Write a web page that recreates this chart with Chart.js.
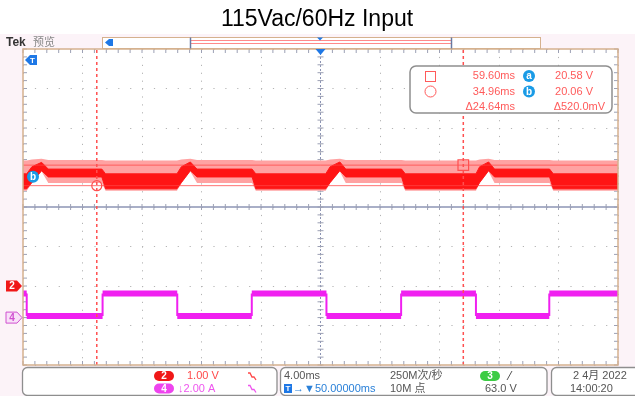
<!DOCTYPE html>
<html>
<head>
<meta charset="utf-8">
<title>115Vac/60Hz Input</title>
<script src="https://cdn.jsdelivr.net/npm/chart.js@4.4.1/dist/chart.umd.min.js"></script>
<style>
  html, body { margin: 0; padding: 0; background: #fff; }
  #wrap { width: 635px; height: 396px; }
</style>
</head>
<body>
<div id="wrap"><canvas id="scope" width="635" height="396"></canvas></div>
<script>
// horizontal axis: time in ms (4.00ms/div, 50ms at centre); vertical axis: screen divisions
const timeRange = [30, 70];
const divRange = [-4, 4];

// channel 2 (red) - ripple band, top/bottom of the dense trace and of the light spikes
const redTime      = [30.0, 30.25, 30.6, 31.25, 31.7, 35.3, 35.55, 40.35, 40.65, 41.25, 41.7, 45.4, 45.65,
                      50.35, 50.65, 51.3, 51.7, 55.45, 55.7, 60.45, 60.7, 61.3, 61.7, 65.4, 65.65, 70.0];
const redDenseTop  = [0.84, 0.84, 1.02, 1.13, 0.96, 0.96, 0.84, 0.84, 1.02, 1.14, 0.96, 0.96, 0.84,
                      0.84, 1.02, 1.14, 0.96, 0.96, 0.84, 0.84, 1.02, 1.14, 0.96, 0.96, 0.84, 0.84];
const redDenseBot  = [0.46, 0.46, 0.62, 0.92, 0.76, 0.76, 0.46, 0.46, 0.62, 0.92, 0.76, 0.76, 0.46,
                      0.46, 0.62, 0.92, 0.76, 0.76, 0.46, 0.46, 0.62, 0.92, 0.76, 0.76, 0.46, 0.46];
const redLightTop  = [1.18, 1.18, 1.20, 1.22, 1.19, 1.19, 1.18, 1.18, 1.20, 1.22, 1.19, 1.19, 1.18,
                      1.18, 1.20, 1.22, 1.19, 1.19, 1.18, 1.18, 1.20, 1.22, 1.19, 1.19, 1.18, 1.18];
const redLightBot  = [0.41, 0.41, 0.60, 0.90, 0.61, 0.61, 0.41, 0.41, 0.60, 0.90, 0.61, 0.61, 0.41,
                      0.41, 0.60, 0.90, 0.61, 0.61, 0.41, 0.41, 0.60, 0.90, 0.61, 0.61, 0.41, 0.41];

// channel 4 (magenta) square wave, edges given as repeated times
const magTime  = [30.0, 30.25, 30.25, 35.35, 35.35, 40.37, 40.37, 45.38, 45.38,
                  50.4, 50.4, 55.42, 55.42, 60.45, 60.45, 65.38, 65.38, 70.0];
const magLevel = [-2.19, -2.19, -2.76, -2.76, -2.19, -2.19, -2.76, -2.76, -2.19,
                  -2.19, -2.76, -2.76, -2.19, -2.19, -2.76, -2.76, -2.19, -2.19];

// cursors: circle (b) and square (a)
const cursorTime  = [34.96, 59.60];
const cursorLevel = [0.54, 1.06];
const readTimes = ['59.60ms', '34.96ms', '\u039424.64ms'];
const readVolts = ['20.58 V', '20.06 V', '\u0394520.0mV'];

// channel markers on the left edge (divisions)
const ch2Offset = -2.0;
const ch4Offset = -2.8;
const trigLevel = 3.72;

const FONT = '"Liberation Sans", "DejaVu Sans", "Noto Sans CJK SC", sans-serif';

function pts(xs, ys) {
    return xs.map((t, i) => ({ x: t, y: ys[i] }));
}

function line(ctx, x1, y1, x2, y2) {
    ctx.beginPath();
    ctx.moveTo(x1, y1);
    ctx.lineTo(x2, y2);
    ctx.stroke();
}

function roundRect(ctx, x, y, w, h, r) {
    ctx.beginPath();
    ctx.moveTo(x + r, y);
    ctx.arcTo(x + w, y, x + w, y + h, r);
    ctx.arcTo(x + w, y + h, x, y + h, r);
    ctx.arcTo(x, y + h, x, y, r);
    ctx.arcTo(x, y, x + w, y, r);
    ctx.closePath();
}

// right-pointing tag, used for channel markers
function tag(ctx, x, y, w, h, fill, stroke, label, color) {
    ctx.beginPath();
    ctx.moveTo(x, y - h / 2);
    ctx.lineTo(x + w - 5, y - h / 2);
    ctx.lineTo(x + w, y);
    ctx.lineTo(x + w - 5, y + h / 2);
    ctx.lineTo(x, y + h / 2);
    ctx.closePath();
    ctx.fillStyle = fill;
    ctx.fill();
    if (stroke) { ctx.strokeStyle = stroke; ctx.lineWidth = 1; ctx.stroke(); }
    ctx.fillStyle = color;
    ctx.font = 'bold 10px ' + FONT;
    ctx.textAlign = 'center';
    ctx.textBaseline = 'middle';
    ctx.fillText(label, x + (w - 4) / 2, y + 0.5);
}

function pill(ctx, x, y, w, h, fill, label) {
    roundRect(ctx, x, y, w, h, h / 2);
    ctx.fillStyle = fill;
    ctx.fill();
    ctx.fillStyle = '#fff';
    ctx.font = 'bold 10px ' + FONT;
    ctx.textAlign = 'center';
    ctx.textBaseline = 'middle';
    ctx.fillText(label, x + w / 2, y + h / 2 + 0.5);
}

function badge(ctx, x, y, fill, label) {
    ctx.beginPath();
    ctx.arc(x, y, 6, 0, Math.PI * 2);
    ctx.fillStyle = fill;
    ctx.fill();
    ctx.fillStyle = '#fff';
    ctx.font = 'bold 10px ' + FONT;
    ctx.textAlign = 'center';
    ctx.textBaseline = 'middle';
    ctx.fillText(label, x, y + 0.5);
}

function squiggle(ctx, x, y, color) {
    ctx.strokeStyle = color;
    ctx.lineWidth = 1.3;
    ctx.beginPath();
    ctx.moveTo(x, y - 3);
    ctx.lineTo(x + 2, y - 3);
    ctx.lineTo(x + 4, y + 1);
    ctx.lineTo(x + 6, y + 1);
    ctx.lineTo(x + 8, y + 4);
    ctx.stroke();
}

function text(ctx, s, x, y, color) {
    ctx.textAlign = 'left';
    ctx.textBaseline = 'middle';
    ctx.font = '11px ' + FONT;
    ctx.fillStyle = color;
    ctx.fillText(s, x, y);
}

const scopeDecor = {
    id: 'scopeDecor',
    beforeDraw(chart) {
        const { ctx, chartArea: a, width, height } = chart;
        ctx.save();
        ctx.fillStyle = '#fcf3f8';
        ctx.fillRect(0, 34, width, height - 34);
        ctx.fillStyle = '#ffffff';
        ctx.fillRect(a.left, a.top, a.right - a.left, a.bottom - a.top);
        ctx.restore();
    },
    beforeDatasetsDraw(chart) {
        const { ctx, chartArea: a, scales: { x, y } } = chart;
        const xc = x.getPixelForValue(50);
        const yc = y.getPixelForValue(0);
        ctx.save();
        // centre cross
        ctx.strokeStyle = '#8c94b4';
        ctx.lineWidth = 1.5;
        line(ctx, a.left, yc, a.right, yc);
        ctx.lineWidth = 1;
        ctx.setLineDash([2, 2]);
        line(ctx, xc, a.top, xc, a.bottom);
        ctx.setLineDash([]);
        // minor ticks on the centre lines and on the frame edges
        ctx.strokeStyle = '#9ca0b4';
        for (let i = 0; i <= 50; i++) {
            const px = x.getPixelForValue(timeRange[0] + i * 0.8);
            line(ctx, px, yc - 3, px, yc + 3);
            line(ctx, px, a.top, px, a.top + 4);
            line(ctx, px, a.bottom - 4, px, a.bottom);
        }
        for (let j = 0; j <= 40; j++) {
            const py = y.getPixelForValue(divRange[0] + j * 0.2);
            line(ctx, xc - 3, py, xc + 3, py);
            line(ctx, a.left, py, a.left + 4, py);
            line(ctx, a.right - 4, py, a.right, py);
        }
        ctx.restore();
    },
    afterDatasetsDraw(chart) {
        const { ctx, chartArea: a, scales: { x, y } } = chart;
        ctx.save();

        // frame
        ctx.strokeStyle = '#d5b18e';
        ctx.lineWidth = 1.5;
        ctx.strokeRect(a.left, a.top, a.right - a.left, a.bottom - a.top);

        // trigger position marker at top centre
        const xc = x.getPixelForValue(50);
        ctx.fillStyle = '#1e78e6';
        ctx.beginPath();
        ctx.moveTo(xc - 5, a.top);
        ctx.lineTo(xc + 5, a.top);
        ctx.lineTo(xc, a.top + 6);
        ctx.closePath();
        ctx.fill();

        // trigger level marker (left)
        const ty = y.getPixelForValue(trigLevel);
        ctx.fillStyle = '#1e78e6';
        ctx.beginPath();
        ctx.moveTo(a.left + 2, ty);
        ctx.lineTo(a.left + 7, ty - 5);
        ctx.lineTo(a.left + 14, ty - 5);
        ctx.lineTo(a.left + 14, ty + 5);
        ctx.lineTo(a.left + 7, ty + 5);
        ctx.closePath();
        ctx.fill();
        ctx.fillStyle = '#fff';
        ctx.font = 'bold 8px ' + FONT;
        ctx.textAlign = 'center';
        ctx.textBaseline = 'middle';
        ctx.fillText('T', a.left + 9.5, ty + 0.5);

        // cursor b badge on left edge
        const by = y.getPixelForValue(cursorLevel[0]) - 9;
        badge(ctx, a.left + 10, by, '#1a9be6', 'b');

        // channel reference tags
        tag(ctx, 6, y.getPixelForValue(ch2Offset), 16, 11, '#f01818', null, '2', '#fff');
        tag(ctx, 6, y.getPixelForValue(ch4Offset), 16, 11, '#f8e0f8', '#d050d0', '4', '#d050d0');

        // cursor readout box
        roundRect(ctx, 410, 66, 202, 47, 6);
        ctx.fillStyle = '#ffffff';
        ctx.fill();
        ctx.strokeStyle = '#8e8e8e';
        ctx.lineWidth = 1.5;
        ctx.stroke();
        const rows = [76, 91.5, 107];
        ctx.strokeStyle = '#ff5a5a';
        ctx.lineWidth = 1;
        ctx.strokeRect(425.5, 71.5, 10, 10);
        ctx.beginPath();
        ctx.arc(430.5, rows[1], 5.5, 0, Math.PI * 2);
        ctx.stroke();
        ctx.font = '11px ' + FONT;
        ctx.fillStyle = '#ff5a5a';
        ctx.textAlign = 'right';
        ctx.textBaseline = 'middle';
        readTimes.forEach((s, i) => ctx.fillText(s, 515, rows[i]));
        readVolts.forEach((s, i) => ctx.fillText(s, i < 2 ? 593 : 605, rows[i]));
        badge(ctx, 529, rows[0], '#1a9be6', 'a');
        badge(ctx, 529, rows[1], '#1a9be6', 'b');

        ctx.restore();
    },
    afterDraw(chart) {
        const { ctx } = chart;
        ctx.save();

        // header: "Tek 预览" and the record overview bar
        ctx.textBaseline = 'middle';
        ctx.textAlign = 'left';
        ctx.fillStyle = '#333';
        ctx.font = 'bold 12px ' + FONT;
        ctx.fillText('Tek', 6, 43);
        ctx.fillStyle = '#888';
        ctx.font = '11px ' + FONT;
        ctx.fillText('预览', 33, 43);

        ctx.fillStyle = '#fff';
        ctx.fillRect(102, 37, 438, 11);
        ctx.strokeStyle = '#d5b18e';
        ctx.lineWidth = 1;
        ctx.strokeRect(102.5, 37.5, 438, 11);
        ctx.strokeStyle = '#ff8a8a';
        line(ctx, 191, 40.5, 451, 40.5);
        line(ctx, 191, 43.5, 451, 43.5);
        ctx.strokeStyle = '#6878a0';
        ctx.lineWidth = 1.5;
        line(ctx, 190.5, 37.5, 190.5, 48.5);
        line(ctx, 451.5, 37.5, 451.5, 48.5);
        ctx.fillStyle = '#1e78e6';
        ctx.beginPath();
        ctx.moveTo(105, 42.5);
        ctx.lineTo(109, 39);
        ctx.lineTo(113, 39);
        ctx.lineTo(113, 46);
        ctx.lineTo(109, 46);
        ctx.closePath();
        ctx.fill();
        ctx.beginPath();
        ctx.moveTo(317, 37.5);
        ctx.lineTo(323, 37.5);
        ctx.lineTo(320, 40.5);
        ctx.closePath();
        ctx.fill();

        // status panels
        ctx.strokeStyle = '#8e8e8e';
        ctx.lineWidth = 1.3;
        [[22.5, 277], [280.5, 547], [551.5, 640]].forEach(([l, r]) => {
            roundRect(ctx, l, 367.5, r - l, 28, 5);
            ctx.fillStyle = '#fff';
            ctx.fill();
            ctx.stroke();
        });

        const r1 = 376, r2 = 388.5;
        pill(ctx, 154, 371, 20, 10, '#f01818', '2');
        pill(ctx, 154, 383.5, 20, 10, '#ee44ee', '4');
        text(ctx, '1.00 V', 187, r1, '#ff4848');
        text(ctx, '\u21932.00 A', 178, r2, '#ee55ee');
        squiggle(ctx, 248, r1, '#ff4848');
        squiggle(ctx, 248, r2, '#ee55ee');

        text(ctx, '4.00ms', 284, r1, '#555');
        text(ctx, '250M次/秒', 390, r1, '#555');
        text(ctx, '10M 点', 390, r2, '#555');
        text(ctx, '63.0 V', 485, r2, '#555');
        pill(ctx, 480, 371, 20, 10, '#3ccc44', '3');
        ctx.strokeStyle = '#555';
        ctx.lineWidth = 1;
        line(ctx, 507, 380, 512, 371);

        ctx.fillStyle = '#1e78e6';
        ctx.fillRect(284, 384, 8, 9);
        ctx.fillStyle = '#fff';
        ctx.font = 'bold 8px ' + FONT;
        ctx.textAlign = 'center';
        ctx.fillText('T', 288, r2);
        text(ctx, '\u2192\u25BC50.00000ms', 293, r2, '#2a80d8');

        text(ctx, '2 4月 2022', 573, r1, '#555');
        text(ctx, '14:00:20', 570, r2, '#555');

        ctx.restore();
    }
};

const ctx = document.getElementById('scope').getContext('2d');
const scopeChart = new Chart(ctx, {
    type: 'line',
    data: {
        datasets: [
            {   // cursor markers
                label: 'cursor marks',
                data: pts(cursorTime, cursorLevel),
                showLine: false,
                pointStyle: ['circle', 'rect'],
                pointRadius: [5, 7.5],
                pointBorderColor: '#ff5050',
                pointBackgroundColor: 'rgba(0,0,0,0)',
                pointBorderWidth: 1.2
            },
            {
                label: 'cursor 1',
                data: pts([cursorTime[0], cursorTime[0]], divRange),
                borderColor: '#ff5050', borderWidth: 1.5, borderDash: [3, 3]
            },
            {
                label: 'cursor 2',
                data: pts([cursorTime[1], cursorTime[1]], divRange),
                borderColor: '#ff5050', borderWidth: 1.5, borderDash: [3, 3]
            },
            {
                label: 'cursor a',
                data: pts(timeRange, [cursorLevel[1], cursorLevel[1]]),
                borderColor: 'rgba(255,70,70,0.75)', borderWidth: 1
            },
            {
                label: 'cursor b',
                data: pts(timeRange, [cursorLevel[0], cursorLevel[0]]),
                borderColor: 'rgba(255,70,70,0.75)', borderWidth: 1
            },
            {
                label: 'Ch4',
                data: pts(magTime, magLevel),
                borderColor: '#f020f0',
                borderWidth: 6,
                borderCapStyle: 'butt',
                segment: {
                    borderWidth: c => (c.p0.parsed.x === c.p1.parsed.x ? 2 : 6)
                }
            },
            {
                label: 'Ch2 dense top',
                data: pts(redTime, redDenseTop),
                borderColor: '#ff1a1a', borderWidth: 1,
                fill: '+1', backgroundColor: '#ff1414'
            },
            {
                label: 'Ch2 dense bottom',
                data: pts(redTime, redDenseBot),
                borderColor: '#ff1a1a', borderWidth: 1
            },
            {
                label: 'Ch2 spikes top',
                data: pts(redTime, redLightTop),
                borderColor: 'rgba(0,0,0,0)', borderWidth: 0,
                fill: '+1', backgroundColor: '#ffa2a2'
            },
            {
                label: 'Ch2 spikes bottom',
                data: pts(redTime, redLightBot),
                borderColor: 'rgba(0,0,0,0)', borderWidth: 0
            }
        ]
    },
    options: {
        responsive: false,
        animation: false,
        events: [],
        elements: { point: { radius: 0 }, line: { tension: 0 } },
        layout: { padding: { left: 16, right: 17, top: 0, bottom: 31 } },
        plugins: {
            legend: { display: false },
            tooltip: { enabled: false },
            title: {
                display: true,
                text: '115Vac/60Hz Input',
                color: '#000',
                font: { family: FONT, size: 23, weight: 'normal', lineHeight: 1.2 },
                padding: { top: 6, bottom: 15.4 }
            }
        },
        scales: {
            x: {
                type: 'linear',
                min: timeRange[0], max: timeRange[1],
                ticks: { display: false, stepSize: 4 },
                grid: { color: '#b4b4b4', lineWidth: 1, drawTicks: false },
                border: { display: false, dash: [1.2, 6.7] }
            },
            y: {
                type: 'linear',
                min: divRange[0], max: divRange[1],
                ticks: { display: false, stepSize: 1 },
                grid: { color: '#b4b4b4', lineWidth: 1, drawTicks: false },
                border: { display: false, dash: [1.2, 10.7] },
                afterFit(scale) { scale.width = 7; }
            }
        }
    },
    plugins: [scopeDecor]
});
</script>
</body>
</html>
